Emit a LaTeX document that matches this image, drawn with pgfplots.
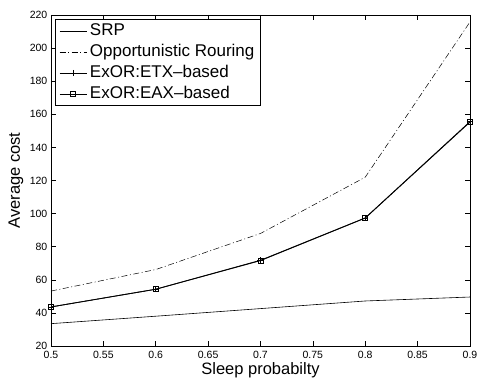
\documentclass[border=0pt]{standalone}
\usepackage{pgfplots}
\pgfplotsset{compat=1.18}
\usepackage{fontspec}
\setmainfont{Liberation Sans}
\begin{document}
\begin{tikzpicture}
\useasboundingbox (-51pt,-35pt) rectangle (426pt,346pt);
\begin{axis}[
  at={(0pt,0pt)}, anchor=south west,
  scale only axis, width=419pt, height=331pt,
  xmin=0.5, xmax=0.9, ymin=20, ymax=220,
  xtick={0.5,0.55,...,0.9}, ytick={20,40,...,220},
  xticklabels={0.5,0.55,0.6,0.65,0.7,0.75,0.8,0.85,0.9},
  /pgf/number format/assume math mode=true,
  tick align=inside, major tick length=5pt,
  tick style={black, line width=0.5pt},
  tick label style={font=\fontsize{10.5}{12}\selectfont},
  xticklabel style={inner sep=0pt, anchor=north, yshift=-5pt},
  yticklabel style={inner sep=0pt, anchor=east, xshift=-3.5pt},
  axis line style={line width=0.8pt},
  xlabel={Sleep probabilty}, ylabel={Average cost},
  label style={font=\fontsize{16.5}{18}\selectfont},
  xlabel style={at={(axis description cs:0.5,-0.0876)}, anchor=base},
  ylabel style={at={(axis description cs:-0.074,0.5)}, anchor=base},
  legend style={at={(rel axis cs:0.0095,0.988)}, anchor=north west,
    font=\fontsize{17}{19}\selectfont, draw=black, line width=0.8pt,
    inner xsep=4pt, inner ysep=1pt, row sep=0pt,
    nodes={inner sep=2pt, text height=13pt, text depth=4pt},
    /tikz/every odd column/.append style={column sep=1pt}},
  legend cell align=left,
  legend image code/.code={\draw[mark repeat=2,mark phase=2,#1,line width=0.6pt] plot coordinates {(0pt,0pt) (13.5pt,0pt) (27pt,0pt)};},
]
\addplot[black, line width=0.6pt] coordinates {(0.5,33.5) (0.6,38) (0.7,42.6) (0.8,47.2) (0.9,49.6)};
\addlegendentry{SRP}
\addplot[black, line width=0.5pt, dash pattern=on 6pt off 2.5pt on 1pt off 2.5pt] coordinates {(0.5,53.2) (0.6,66.2) (0.7,88) (0.8,122) (0.9,215.8)};
\addlegendentry{Opportunistic Rouring}
\addplot[black, line width=0.8pt, mark=+, mark size=3pt] coordinates {(0.5,43.6) (0.6,54.3) (0.7,71.8) (0.8,97.4) (0.9,155.6)};
\addlegendentry{ExOR:ETX--based}
\addplot[black, line width=0.8pt, mark=square, mark size=2.5pt, mark options={line width=0.6pt}] coordinates {(0.5,43.6) (0.6,54.3) (0.7,71.6) (0.8,97.3) (0.9,155.3)};
\addlegendentry{ExOR:EAX--based}
\end{axis}
\end{tikzpicture}
\end{document}
